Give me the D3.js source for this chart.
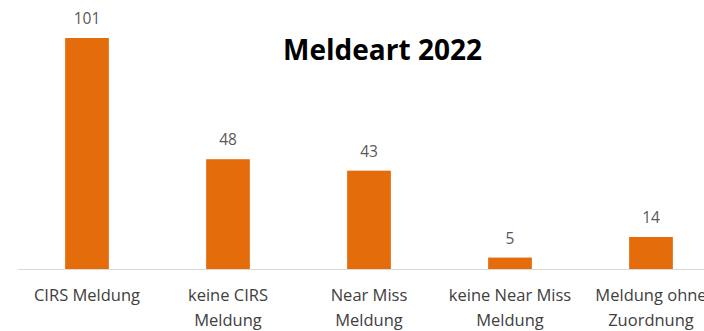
<!DOCTYPE html>
<html><head><meta charset="utf-8">
<script src="https://cdn.jsdelivr.net/npm/d3@7/dist/d3.min.js"></script>
<style>body{margin:0;background:#fff;overflow:hidden}</style>
</head><body>
<svg id="c" width="704" height="331"></svg>
<script>
const categories = [["CIRS Meldung"], ["keine CIRS", "Meldung"], ["Near Miss", "Meldung"], ["keine Near Miss", "Meldung"], ["Meldung ohne", "Zuordnung"]];
const values = [101, 48, 43, 5, 14];
const title = "Meldeart 2022";

const svg = d3.select("#c");
const baseY = 269;
const x = d3.scaleBand().domain(d3.range(values.length)).range([16.5, 721.5]).paddingInner(0.69).paddingOuter(0.345);
const y = d3.scaleLinear().domain([0, 101]).range([baseY, 38]);

svg.append("line").attr("x1", 18).attr("x2", 704).attr("y1", baseY + 0.5).attr("y2", baseY + 0.5)
  .attr("stroke", "#d9d9d9").attr("stroke-width", 1);

svg.selectAll("rect.bar").data(values).join("rect").attr("class", "bar")
  .attr("x", (d, i) => x(i)).attr("width", x.bandwidth())
  .attr("y", d => y(d)).attr("height", d => baseY - y(d))
  .attr("fill", "#e46c0a");

svg.selectAll("text.val").data(values).join("text").attr("class", "val")
  .attr("x", (d, i) => x(i) + x.bandwidth() / 2).attr("y", d => y(d) - 14)
  .attr("text-anchor", "middle").attr("font-family", "Open Sans, sans-serif")
  .attr("font-size", 15.5).attr("fill", "#595959").text(d => d);

const lab = svg.selectAll("text.cat").data(categories).join("text").attr("class", "cat")
  .attr("text-anchor", "middle").attr("font-family", "Open Sans, sans-serif")
  .attr("font-size", 16.5).attr("fill", "#404040");
lab.selectAll("tspan").data((d, i) => d.map(t => ({ t, i }))).join("tspan")
  .attr("x", d => x(d.i) + x.bandwidth() / 2)
  .attr("y", (d, j) => 301 + j * 25).text(d => d.t);

svg.append("text").attr("x", 382.5).attr("y", 60).attr("text-anchor", "middle")
  .attr("font-family", "Open Sans, sans-serif").attr("font-weight", "bold")
  .attr("font-size", 28).attr("fill", "#000").text(title);
</script>
</body></html>
